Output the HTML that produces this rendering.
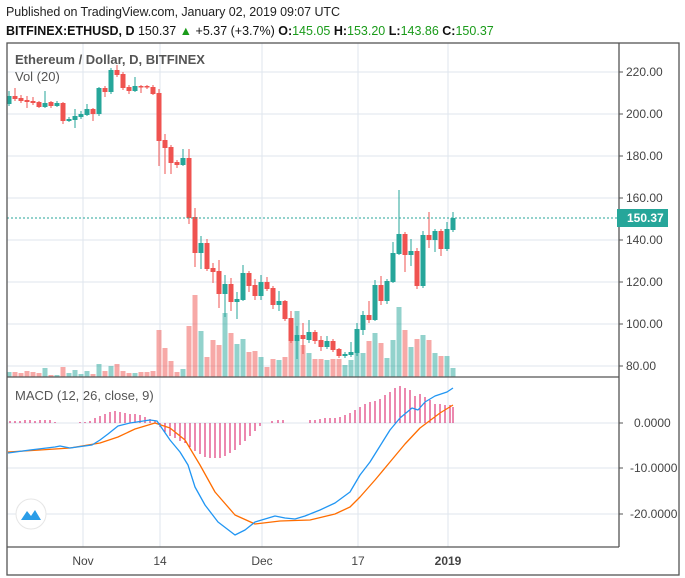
<!DOCTYPE html>
<html><head><meta charset="utf-8"><style>
body{margin:0;background:#fff;width:685px;height:578px;overflow:hidden;font-family:"Liberation Sans",sans-serif}
svg{position:absolute;left:0;top:0}
</style></head><body>
<svg id="s" width="685" height="578" xmlns="http://www.w3.org/2000/svg" font-family="Liberation Sans, sans-serif">
<text x="6" y="16" font-size="12.5" fill="#222" textLength="334">Published on TradingView.com, January 02, 2019 09:07 UTC</text>
<text x="6" y="35" font-size="12.5" fill="#111"><tspan font-weight="bold">BITFINEX:ETHUSD, D</tspan> 150.37 <tspan fill="#1a9b1a">▲</tspan> +5.37 (+3.7%) <tspan font-weight="bold">O:</tspan><tspan fill="#1a9b1a">145.05</tspan> <tspan font-weight="bold">H:</tspan><tspan fill="#1a9b1a">153.20</tspan> <tspan font-weight="bold">L:</tspan><tspan fill="#1a9b1a">143.86</tspan> <tspan font-weight="bold">C:</tspan><tspan fill="#1a9b1a">150.37</tspan></text>
<g id="grid"></g>
<g id="vol"></g>
<g id="cdl"></g>
<g id="hist"></g>
<line x1="7" y1="218" x2="619" y2="218" stroke="#26a69a" stroke-dasharray="2,2"/>
<polyline fill="none" stroke="#ff6d00" stroke-width="1.3" stroke-linejoin="round" points="8,452 40,450 70,448 100,443 118,437 135,429 155,423 170,428 185,440 200,465 215,492 235,515 255,524 280,521 310,520 335,514 350,507 360,497 375,480 390,462 405,444 420,428 440,413 453,405"/>
<polyline fill="none" stroke="#2196f3" stroke-width="1.3" stroke-linejoin="round" points="8,453 30,450 55,447 60,446 70,448 92,445 100,440 108,434 118,426 130,423 150,420 157,421 170,440 180,452 188,465 195,487 205,505 218,522 235,535 245,530 255,522 265,519 275,516 285,518 295,519 305,516 320,510 335,503 350,492 360,475 370,462 380,446 390,430 400,418 412,408 418,410 425,402 435,396 447,392 453,388"/>
<rect x="7" y="43" width="672" height="532" fill="none" stroke="#555" stroke-width="1.3"/>
<line x1="7" y1="377" x2="619" y2="377" stroke="#555" stroke-width="1.3"/>
<line x1="7" y1="547" x2="619" y2="547" stroke="#555" stroke-width="1.3"/>
<line x1="619" y1="43" x2="619" y2="547" stroke="#555" stroke-width="1.3"/>
<text x="15" y="64" font-size="13" font-weight="bold" fill="#555">Ethereum / Dollar, D, BITFINEX</text>
<text x="15" y="81" font-size="13" fill="#555">Vol (20)</text>
<text x="15" y="400" font-size="13" fill="#555">MACD (12, 26, close, 9)</text>
<g id="ax" font-size="12" fill="#444"></g>
<rect x="617" y="209" width="51" height="18" fill="#26a69a"/>
<text x="627" y="222" font-size="12" font-weight="bold" fill="#fff">150.37</text>
<circle cx="31" cy="514" r="15" fill="#fff" stroke="#e6e6e6"/>
<path d="M21,520 L27,511 L31,516 L35,510 L41,520 Z" fill="#2b9de8"/>
</svg>
<script>
var NS="http://www.w3.org/2000/svg";
function el(p,t,a){var e=document.createElementNS(NS,t);for(var k in a)e.setAttribute(k,a[k]);document.getElementById(p).appendChild(e);return e;}
var G="#26a69a",R="#ef5350";
for(var p=80;p<=220;p+=20){var y=72+(220-p)*2.1;el("grid","line",{x1:7,x2:619,y1:y,y2:y,stroke:"#dfe6ee"});
 el("grid","line",{x1:619,x2:623,y1:y,y2:y,stroke:"#555"});
 var t=el("ax","text",{x:626,y:y+4});t.textContent=p.toFixed(2);}
[[423,"0.0000",634],[468,"-10.0000",630],[514,"-20.0000",630]].forEach(function(a){el("grid","line",{x1:7,x2:619,y1:a[0],y2:a[0],stroke:"#dfe6ee"});el("grid","line",{x1:619,x2:623,y1:a[0],y2:a[0],stroke:"#555"});var t=el("ax","text",{x:a[2],y:a[0]+4});t.textContent=a[1];});
[[83,"Nov"],[160,"14"],[262,"Dec"],[358,"17"],[448,"2019"]].forEach(function(a){el("grid","line",{x1:a[0],x2:a[0],y1:43,y2:547,stroke:"#dfe6ee"});var t=el("ax","text",{x:a[0],y:565,"text-anchor":"middle"});t.textContent=a[1];if(a[1]=="2019")t.setAttribute("font-weight","bold");});
var c=[["g",96,104,91,106],["r",96,99,88,101],["r",98,101,95,103],["r",100,102,96,108],["r",101,103,97,105],["r",102,107,101,108],["g",103,107,91,108],["r",102,106,101,108],["g",103,106,101,107],["r",103,121,102,124],["g",119,121,117,122],["g",116,120,109,128],["g",114,117,111,119],["g",109,115,104,116],["r",109,114,108,121],["g",88,114,87,116],["r",88,92,86,97],["g",70,92,68,94],["r",70,75,65,77],["r",74,88,72,90],["r",87,91,85,94],["g",86,91,77,92],["r",86,87,85,93],["r",86,87,85,89],["r",87,94,85,95],["r",93,141,89,166],["r",140,148,134,174],["r",147,163,145,174],["r",162,165,160,168],["g",158,165,149,166],["r",158,218,149,224],["r",217,253,208,267],["g",243,253,236,269],["r",243,269,239,271],["r",268,272,263,283],["r",271,294,260,308],["g",284,294,275,317],["r",284,302,278,311],["g",299,302,292,319],["g",273,300,265,301],["r",273,286,271,292],["r",285,296,279,300],["g",282,296,275,300],["r",282,289,277,291],["r",288,305,286,309],["g",301,305,291,311],["r",301,319,300,321],["r",318,341,311,343],["g",335,341,326,359],["r",335,339,323,354],["g",332,340,320,343],["r",332,341,330,344],["r",340,347,336,351],["g",341,347,336,349],["r",341,350,339,352],["r",349,356,348,358],["g",354,356,352,358],["g",352,355,342,357],["g",329,353,323,356],["g",315,330,311,335],["r",315,320,301,323],["g",285,320,280,321],["r",285,301,276,305],["g",281,301,279,304],["g",253,282,242,283],["g",234,254,190,255],["r",234,255,232,272],["g",251,255,239,266],["r",251,286,248,289],["g",235,286,231,288],["r",235,240,212,248],["g",231,240,229,252],["r",231,249,229,256],["g",229,249,222,251],["g",218,230,212,232]];
var v=[372,372,373,371,372,373,368,375,375,367,373,370,374,371,374,364,371,366,364,371,373,373,372,372,371,330,348,361,372,369,326,295,331,357,340,345,313,333,344,339,352,351,357,367,359,360,357,340,311,345,353,359,359,360,359,359,365,360,353,353,341,333,343,358,340,307,330,347,339,335,340,353,356,356,368];
c.forEach(function(d,i){var x=9+i*6,col=d[0]=="g"?G:R;
 el("cdl","line",{x1:x,x2:x,y1:d[3],y2:d[4],stroke:col,"stroke-width":1});
 el("cdl","rect",{x:x-2.5,y:d[1],width:5,height:Math.max(1.5,d[2]-d[1]),fill:col});
 el("vol","rect",{x:x-2.5,y:v[i],width:5,height:377-v[i],fill:col,opacity:0.5});
});
var h=[[10,421],[15,421],[20,421],[25,420],[30,420],[35,421],[40,420],[45,420],[50,420],[55,422],[80,422],[85,422],[90,421],[95,418],[100,416],[105,414],[110,412],[115,411],[120,412],[125,413],[130,414],[135,414],[140,415],[145,417],[150,419],[155,421],[160,427],[165,432],[170,436],[175,438],[180,441],[185,443],[190,447],[195,451],[200,454],[205,457],[210,458],[215,458],[220,458],[225,456],[230,453],[235,450],[240,445],[245,441],[250,436],[255,431],[260,426],[272,421],[278,420],[283,420],[310,420],[315,420],[320,419],[325,418],[330,418],[335,418],[340,417],[345,415],[350,413],[355,410],[360,407],[365,404],[370,402],[375,401],[380,399],[385,395],[390,392],[395,388],[400,386],[405,388],[410,390],[415,396],[420,394],[425,397],[430,400],[435,404],[440,404],[445,405],[450,405],[453,407]];
h.forEach(function(a){el("hist","line",{x1:a[0],x2:a[0],y1:423,y2:a[1],stroke:"#d8105f","stroke-width":1});});
</script>
</body></html>
